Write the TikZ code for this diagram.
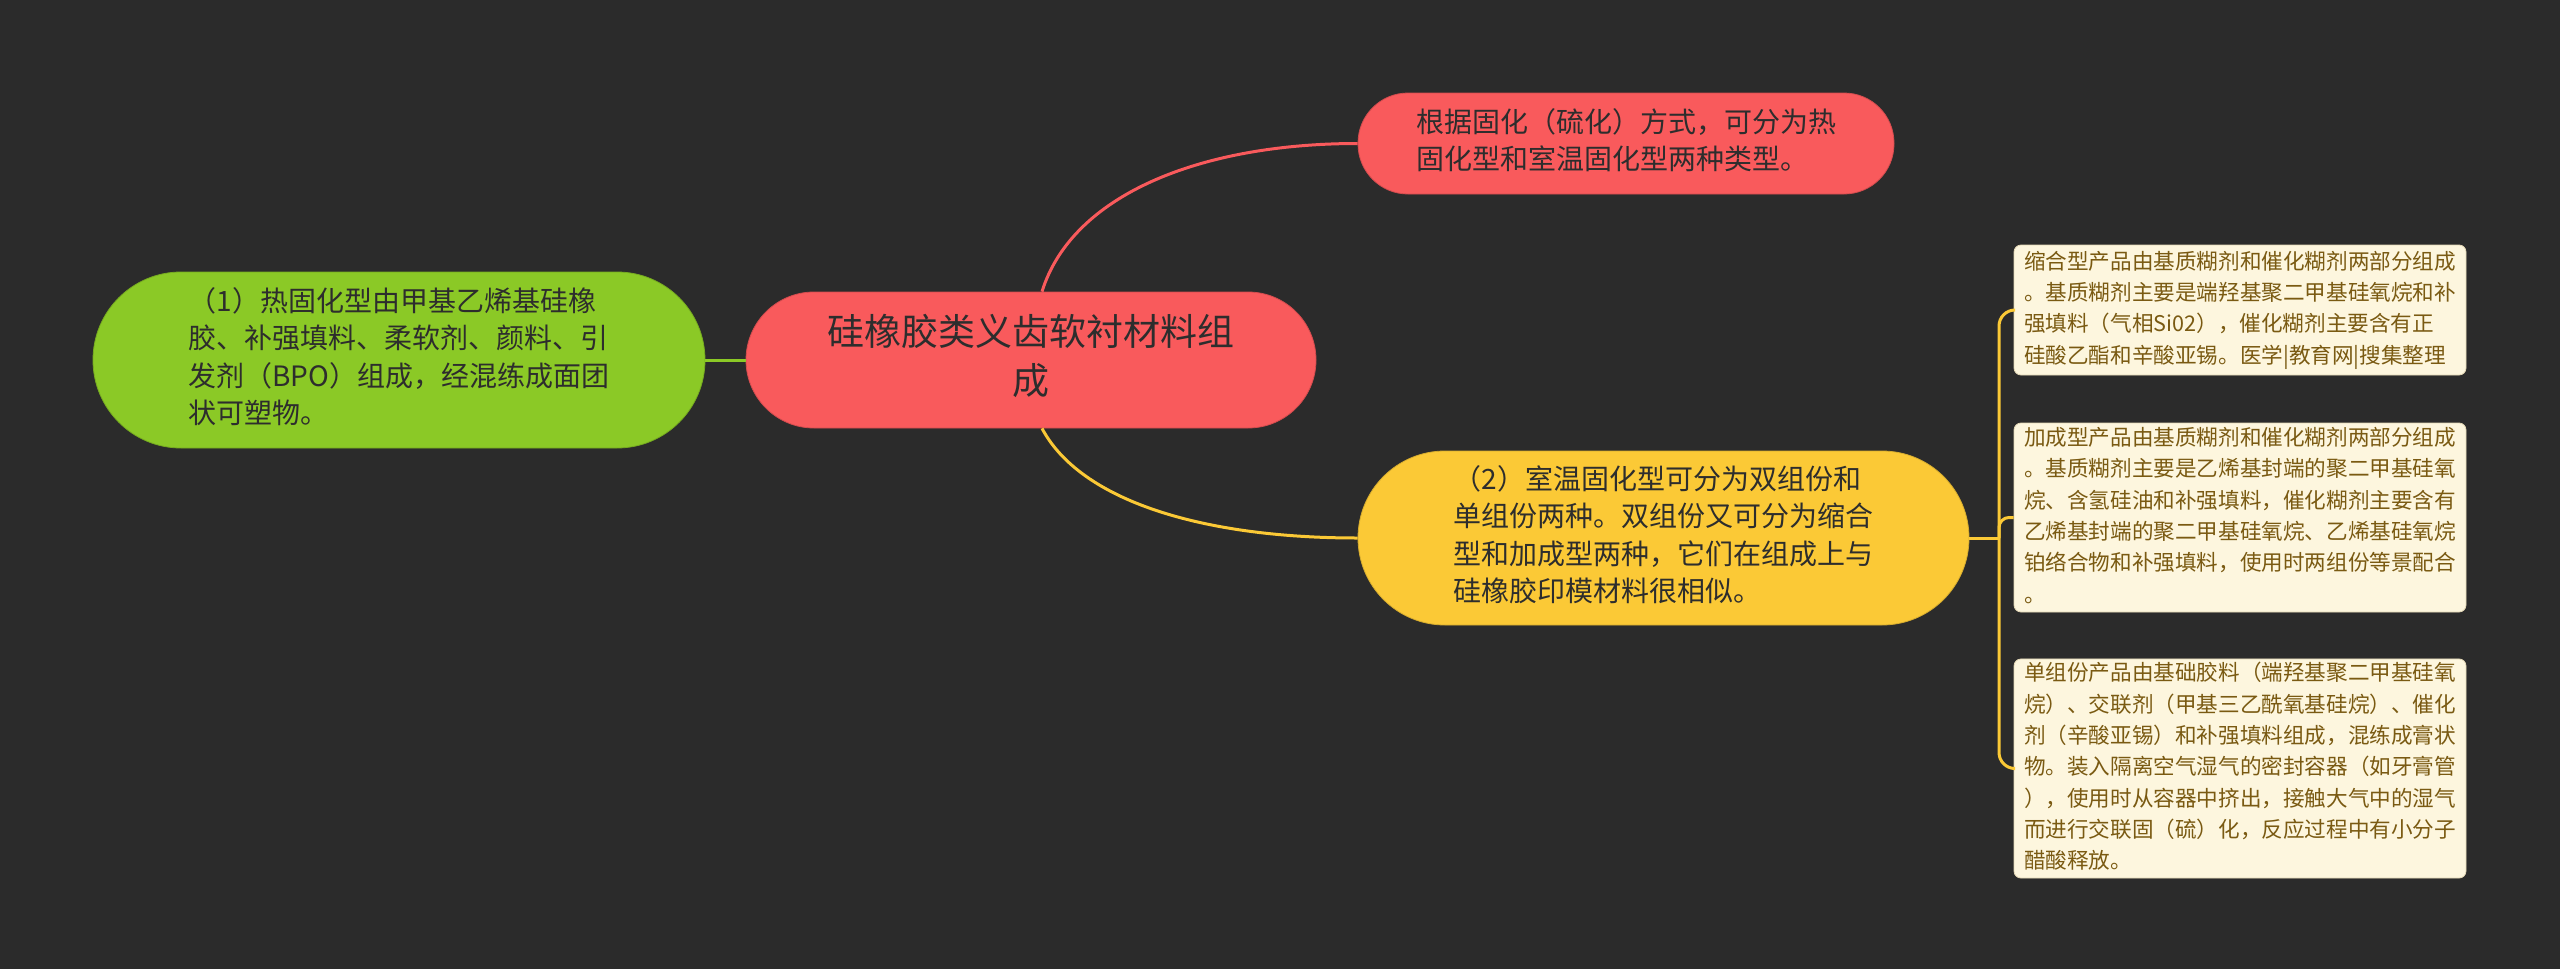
\documentclass[tikz,border=0pt]{standalone}
\usepackage{fontspec}
\newfontfamily\cjk{Noto Sans CJK SC}
\definecolor{bgDark}{HTML}{2B2B2B}
\definecolor{rootRed}{HTML}{F95A5C}
\definecolor{leafGreen}{HTML}{8BC926}
\definecolor{leafYellow}{HTML}{FBC936}
\definecolor{noteFill}{HTML}{FDF6DE}
\definecolor{noteText}{HTML}{7A5A12}
\definecolor{inkDark}{HTML}{2D2D2D}
\begin{document}
\begin{tikzpicture} [
      x=1pt, y=-1pt,
      topic/.style={draw=rootRed!85!black, line width=0.8pt, rectangle, text=inkDark, inner sep=0pt, font={\cjk\fontsize{37}{49.5}\selectfont}},
      branch/.style={draw=#1!85!black, fill=#1, line width=0.8pt, rectangle, text=inkDark, inner sep=0pt, font={\cjk\fontsize{28}{37.3}\selectfont}},
      note/.style={draw=noteFill!80!noteText, fill=noteFill, line width=0.8pt, rectangle, rounded corners=7pt, minimum width=452pt, text=noteText, inner sep=0pt, font={\cjk\fontsize{21.6}{31.3}\selectfont}},
      link/.style={line width=3pt}
   ]
    \fill[bgDark] (0, 0) rectangle (2560, 969);

    \node[topic, fill=rootRed, minimum width=570pt, minimum height=136pt, rounded corners=68pt] (ndRoot) at (1031, 360) {
      \begin{tabular}{@{}c@{}}
        硅橡胶类义齿软衬材料组 \\
        成
      \end{tabular}
    };
    \node[branch=rootRed, minimum width=536pt, minimum height=101pt, rounded corners=50pt] (ndCure) at (1626, 143.5) {
      \begin{tabular}{@{}l@{}}
        根据固化（硫化）方式，可分为热 \\
        固化型和室温固化型两种类型。
      \end{tabular}
    };
    \node[branch=leafGreen, minimum width=612pt, minimum height=176pt, rounded corners=88pt, left of=ndRoot, node distance=632pt] (ndHeat) {
      \begin{tabular}{@{}l@{}}
        （1）热固化型由甲基乙烯基硅橡 \\
        胶、补强填料、柔软剂、颜料、引 \\
        发剂（BPO）组成，经混练成面团 \\
        状可塑物。
      \end{tabular}
    };
    \node[branch=leafYellow, minimum width=611pt, minimum height=174pt, rounded corners=87pt] (ndRoom) at (1663.5, 538) {
      \begin{tabular}{@{}l@{}}
        （2）室温固化型可分为双组份和 \\
        单组份两种。双组份又可分为缩合 \\
        型和加成型两种，它们在组成上与 \\
        硅橡胶印模材料很相似。
      \end{tabular}
    };

    \node[note, minimum height=130pt] (ndCond) at (2240, 310) {
      \begin{tabular}{@{}l@{}}
        缩合型产品由基质糊剂和催化糊剂两部分组成 \\
        。基质糊剂主要是端羟基聚二甲基硅氧烷和补 \\
        强填料（气相Si02），催化糊剂主要含有正 \\
        硅酸乙酯和辛酸亚锡。医学|教育网|搜集整理
      \end{tabular}
    };
    \node[note, minimum height=189pt, below of=ndCond, node distance=207.5pt] (ndAdd) {
      \begin{tabular}{@{}l@{}}
        加成型产品由基质糊剂和催化糊剂两部分组成 \\
        。基质糊剂主要是乙烯基封端的聚二甲基硅氧 \\
        烷、含氢硅油和补强填料，催化糊剂主要含有 \\
        乙烯基封端的聚二甲基硅氧烷、乙烯基硅氧烷 \\
        铂络合物和补强填料，使用时两组份等景配合 \\
        。
      \end{tabular}
    };
    \node[note, minimum height=217pt, below of=ndAdd, node distance=251pt] (ndSingle) {
      \begin{tabular}{@{}l@{}}
        单组份产品由基础胶料（端羟基聚二甲基硅氧 \\
        烷）、交联剂（甲基三乙酰氧基硅烷）、催化 \\
        剂（辛酸亚锡）和补强填料组成，混练成膏状 \\
        物。装入隔离空气湿气的密封容器（如牙膏管 \\
        ），使用时从容器中挤出，接触大气中的湿气 \\
        而进行交联固（硫）化，反应过程中有小分子 \\
        醋酸释放。
      \end{tabular}
    };

    \draw[link, rootRed] ([xshift=11pt]ndRoot.north) .. controls (1072, 195) and (1200, 143.5) .. (ndCure.west);
    \draw[link, leafYellow] ([xshift=11pt]ndRoot.south) .. controls (1080, 500) and (1200, 538) .. (ndRoom.west);
    \draw[link, leafGreen] (ndRoot.west) -- (ndHeat.east);

    \coordinate (fork) at (1999, 538);
    \draw[link, leafYellow] (ndRoom.east) -- (fork);
    \draw[link, leafYellow, rounded corners=16pt] (fork) |- (ndCond.west);
    \draw[link, leafYellow, rounded corners=10pt] (fork) |- (ndAdd.west);
    \draw[link, leafYellow, rounded corners=16pt] (fork) |- (ndSingle.west);
    
  \end{tikzpicture}
\end{document}
